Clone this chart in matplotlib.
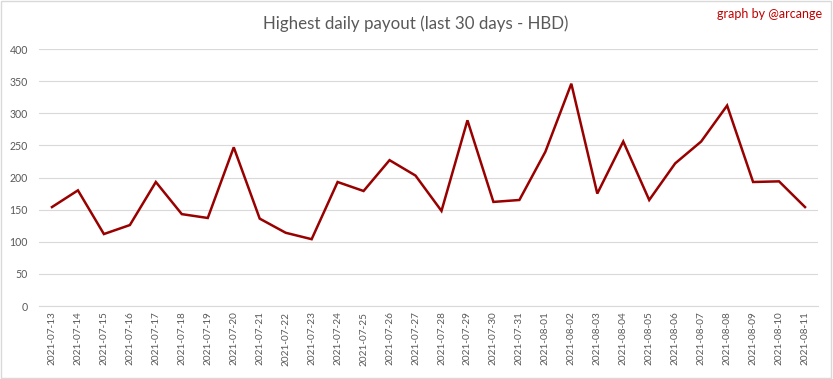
import matplotlib.pyplot as plt
from matplotlib.patches import Rectangle

dates = [
    "2021-07-13", "2021-07-14", "2021-07-15", "2021-07-16", "2021-07-17",
    "2021-07-18", "2021-07-19", "2021-07-20", "2021-07-21", "2021-07-22",
    "2021-07-23", "2021-07-24", "2021-07-25", "2021-07-26", "2021-07-27",
    "2021-07-28", "2021-07-29", "2021-07-30", "2021-07-31", "2021-08-01",
    "2021-08-02", "2021-08-03", "2021-08-04", "2021-08-05", "2021-08-06",
    "2021-08-07", "2021-08-08", "2021-08-09", "2021-08-10", "2021-08-11",
]
payout = [
    154, 180, 112, 126, 193, 143, 137, 247, 136, 114,
    104, 193, 179, 227, 203, 148, 289, 162, 165, 240,
    346, 175, 256, 165, 222, 256, 312, 193, 194, 154,
]
yticks = [0, 50, 100, 150, 200, 250, 300, 350, 400]

plt.rcParams["font.family"] = ["Lato", "DejaVu Sans"]
grey = "#595959"

fig = plt.figure(figsize=(8.33, 3.79), dpi=100)
ax = fig.add_axes([0.0468, 0.1926, 0.9352, 0.6781])

x = list(range(len(dates)))
ax.plot(x, payout, color="#990000", linewidth=1.8, solid_joinstyle="miter")

ax.set_xlim(-0.5, len(dates) - 0.5)
ax.set_ylim(0, 400)
ax.set_yticks(yticks)
ax.set_xticks(x)
ax.set_xticklabels(dates, rotation=90, fontsize=7.2, color=grey)
ax.tick_params(axis="y", length=0, pad=8, labelsize=7.6, labelcolor=grey)
ax.tick_params(axis="x", length=0, pad=4)
ax.grid(axis="y", color="#d9d9d9", linewidth=0.8)
ax.set_axisbelow(True)
for side in ["top", "right", "left"]:
    ax.spines[side].set_visible(False)
ax.spines["bottom"].set_color("#d9d9d9")
ax.spines["bottom"].set_linewidth(0.8)

fig.text(0.499, 0.937, "Highest daily payout (last 30 days - HBD)",
         ha="center", va="center", fontsize=12.2, color=grey)
fig.text(0.987, 0.962, "graph by @arcange", ha="right", va="center",
         fontsize=9, color="#c00000")

fig.patches.append(Rectangle((0.001, 0.002), 0.997, 0.995, transform=fig.transFigure,
                             fill=False, edgecolor="#d9d9d9", linewidth=1))

fig.savefig("out.png", dpi=100)
